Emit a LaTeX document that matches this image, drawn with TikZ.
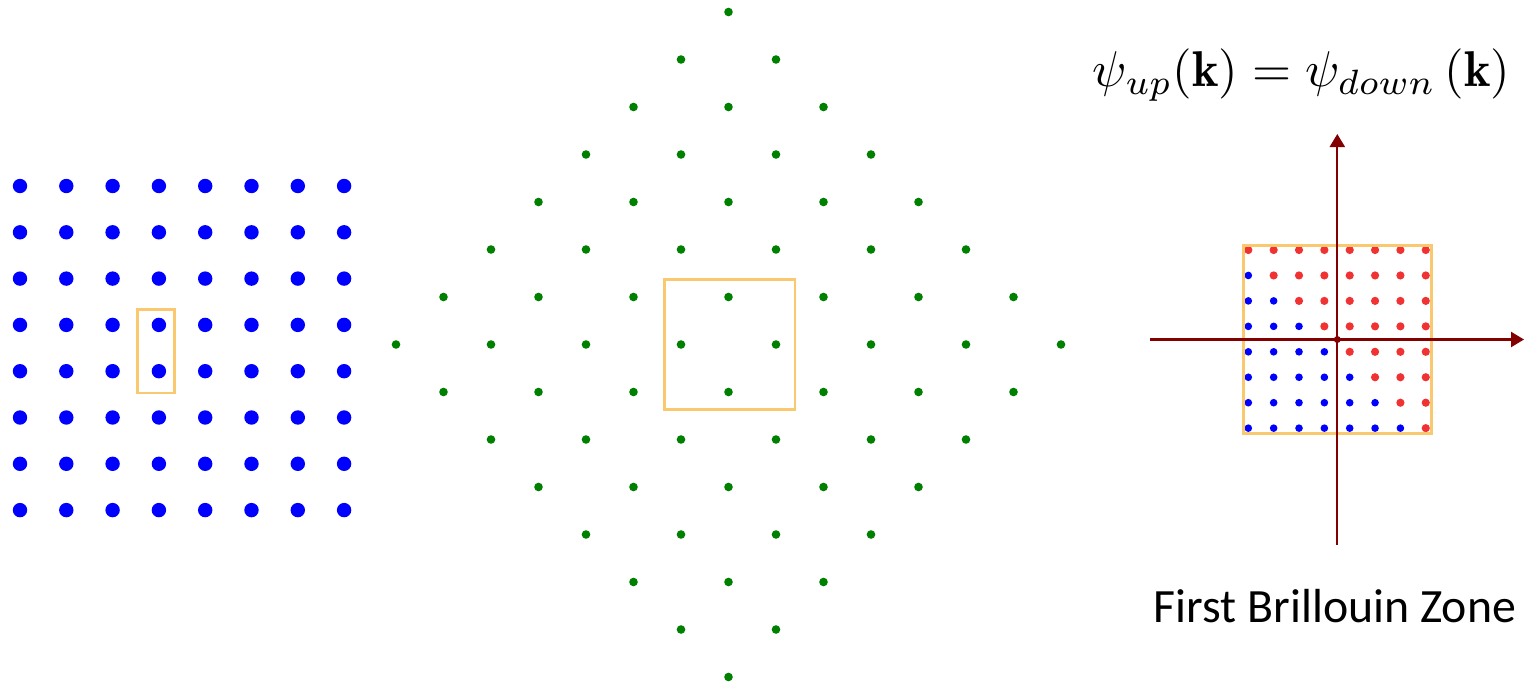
\documentclass[tikz,border=0pt]{standalone}
\usepackage{fontspec}
\usepackage{graphicx}
\newfontfamily\calib{Carlito}
\usetikzlibrary{arrows.meta}
\definecolor{dotblue}{RGB}{0,0,255}
\definecolor{dotgreen}{RGB}{0,128,0}
\definecolor{dotred}{RGB}{240,50,50}
\definecolor{zoneorange}{RGB}{250,200,110}
\definecolor{axisred}{RGB}{130,0,0}
\tikzset{
  cellbox/.style={draw=zoneorange, line width=2.6pt},
  axisline/.style={draw=axisred, line width=2.2pt, -{Triangle[width=15pt,length=13pt]}},
}
\begin{document}
\begin{tikzpicture}[x=1pt,y=-1pt]
\useasboundingbox (0,0) rectangle (1539,685);
% left: square lattice
\foreach \i in {0,...,7}{
  \foreach \j in {0,...,7}{
    \fill[dotblue] (20+46.3*\i,186+46.3*\j) circle (7.2pt);
  }
}
\draw[cellbox] (137.3,309.5) rectangle (174.3,392.8);
% middle: rotated (checkerboard) lattice
\foreach \i in {-7,...,7}{
  \foreach \j in {-7,...,7}{
    \pgfmathtruncatemacro{\s}{abs(\i)+abs(\j)}
    \pgfmathtruncatemacro{\p}{mod(abs(\i+\j),2)}
    \ifnum\s<8 \ifnum\p=1
      \fill[dotgreen] (728.5+47.5*\i,344.5+47.5*\j) circle (4.3pt);
    \fi\fi
  }
}
\draw[cellbox] (664.5,279.5) rectangle (795,409.5);
% right: first Brillouin zone
\foreach \c in {0,...,7}{
  \foreach \r in {0,...,7}{
    \ifnum\c<\r
      \fill[dotblue] (1248.3+25.35*\c,250+25.45*\r) circle (3.8pt);
    \else
      \fill[dotred] (1248.3+25.35*\c,250+25.45*\r) circle (4.1pt);
    \fi
  }
}
\draw[cellbox, line width=3pt] (1243,245.7) rectangle (1431,433.3);
\coordinate (hl) at (1150,339.5);
\coordinate (hr) at (1524,339.5);
\coordinate (vb) at (1337.3,545);
\coordinate (vt) at (1337.3,134);
\coordinate (orig) at (1337.3,339.5);
\draw[axisline] (hl) -- (hr);
\draw[axisline] (vb) -- (vt);
\fill[axisred] (orig) circle (3.5pt);
% labels
\node[anchor=base, inner sep=0pt] (eq) at (1301.5,87)
  {\resizebox{417pt}{!}{$\psi_{up}(\mathbf{k}) = \psi_{down}\,(\mathbf{k})$}};
\node[anchor=base, inner sep=0pt] (bz) at (1335,622)
  {\calib\fontsize{47.8}{56}\selectfont First Brillouin Zone};
\end{tikzpicture}
\end{document}
